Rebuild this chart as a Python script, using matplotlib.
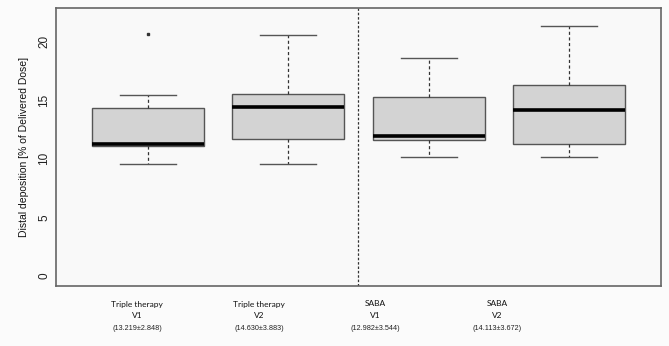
import matplotlib.pyplot as plt
import matplotlib.transforms as mtransforms

# box statistics (% of delivered dose)
groups = ['Triple therapy', 'Triple therapy', 'SABA', 'SABA']
visits = ['V1', 'V2', 'V1', 'V2']
mean_sd = ['(13.219\u00b12.848)', '(14.630\u00b13.883)', '(12.982\u00b13.544)', '(14.113\u00b13.672)']
q1 = [11.09, 11.68, 11.57, 11.26]
med = [11.23, 14.42, 11.97, 14.19]
q3 = [14.31, 15.56, 15.27, 16.27]
whislo = [9.52, 9.57, 10.15, 10.12]
whishi = [15.42, 20.60, 18.58, 21.37]
fliers = [[20.63], [], [], []]
label_x = [0.92, 1.79, 2.62, 3.49]

stats = []
for i in range(4):
    stats.append(dict(med=med[i], q1=q1[i], q3=q3[i], whislo=whislo[i],
                      whishi=whishi[i], fliers=fliers[i]))

fig = plt.figure(figsize=(6.69, 3.46), dpi=100)
fig.patch.set_facecolor('#fbfbfb')
ax = fig.add_axes([56/669, 1-286/346, (661-56)/669, (286-8)/346])
ax.set_facecolor('#f9f9f9')

ax.bxp(stats, positions=[1, 2, 3, 4], widths=0.8, patch_artist=True,
       boxprops=dict(facecolor='#d3d3d3', edgecolor='#555555', linewidth=1),
       medianprops=dict(color='black', linewidth=2.6),
       whiskerprops=dict(color='#333333', linestyle=(0, (2.5, 2)), linewidth=0.9),
       capprops=dict(color='#555555', linewidth=1),
       flierprops=dict(marker='s', markersize=1.6, markerfacecolor='#333333',
                       markeredgecolor='#333333'))

# separator between therapy groups
ax.axvline(2.5, color='#333333', linestyle=(0, (2, 1.5)), linewidth=0.9)

ax.set_xlim(0.34, 4.66)
ax.set_ylim(-0.88, 22.88)
ax.set_xticks([])
ax.set_yticks([0, 5, 10, 15, 20])
ax.set_yticklabels(['0', '5', '10', '15', '20'], rotation=90, va='center',
                   fontsize=8.5, family='Liberation Sans', color='#222222')
ax.tick_params(axis='y', length=0, pad=4)
for s in ax.spines.values():
    s.set_color('#666666')
    s.set_linewidth(1.2)

ax.set_ylabel('Distal deposition [% of Delivered Dose]', family='Liberation Sans',
              fontsize=7.5, color='#111111', labelpad=7)

trans = mtransforms.blended_transform_factory(ax.transData, fig.transFigure)
for i in range(4):
    ax.text(label_x[i], 1-304/346, groups[i], transform=trans, ha='center', va='center',
            fontsize=6, family='Lato', color='#111111', clip_on=False)
    ax.text(label_x[i], 1-316/346, visits[i], transform=trans, ha='center', va='center',
            fontsize=6, family='Lato', color='#111111', clip_on=False)
    ax.text(label_x[i], 1-329/346, mean_sd[i], transform=trans, ha='center', va='center',
            fontsize=5.2, family='Liberation Sans', color='#222222', clip_on=False)

fig.savefig('out.png', dpi=100, facecolor=fig.get_facecolor())
